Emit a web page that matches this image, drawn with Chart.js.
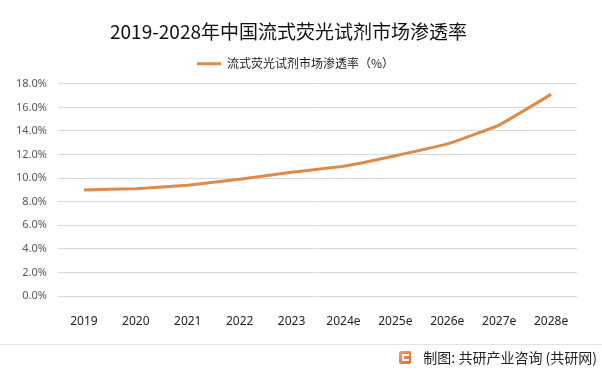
<!DOCTYPE html>
<html>
<head>
<meta charset="utf-8">
<script src="https://cdn.jsdelivr.net/npm/chart.js@4/dist/chart.umd.min.js"></script>
<style>
html,body{margin:0;padding:0;background:#fff;}
#wrap{position:relative;width:602px;height:374px;overflow:hidden;}
#c{position:absolute;left:0;top:0;}
#sep{position:absolute;left:0;top:344px;width:602px;height:1px;background:#e3e3e3;}
#footer{position:absolute;right:5px;top:347px;height:20px;line-height:20px;font-family:"Noto Sans CJK SC",sans-serif;font-size:14px;color:#222;display:flex;align-items:center;}
#icon{width:12px;height:13px;background:linear-gradient(135deg,#f6a25a,#e8612c);border-radius:2px;margin-right:12px;position:relative;}
#icon:after{content:"";position:absolute;left:3px;top:3px;width:7px;height:7px;border:2px solid #fff;border-right:none;box-sizing:border-box;}
</style>
</head>
<body>
<div id="wrap">
<canvas id="c" width="602" height="374"></canvas>
<div id="sep"></div>
<div id="footer"><span id="icon"></span>制图: 共研产业咨询 (共研网)</div>
</div>
<script>
const titleText = "2019-2028年中国流式荧光试剂市场渗透率";
const seriesName = "流式荧光试剂市场渗透率（%）";
const categories = ["2019","2020","2021","2022","2023","2024e","2025e","2026e","2027e","2028e"];
const penetration = [9.0, 9.1, 9.4, 9.9, 10.5, 11.0, 11.9, 12.9, 14.5, 17.1];
const yTicks = [0,2,4,6,8,10,12,14,16,18];

const lineColor = "#dc8b4a";

const legendShift = {
  id: "legendShift",
  afterLayout(chart) {
    const l = chart.legend;
    if (l) {
      l.top -= 4; l.bottom -= 4;
      l.left += 7; l.right += 7;
    }
  }
};

new Chart(document.getElementById("c"), {
  type: "line",
  data: {
    labels: categories,
    datasets: [{
      label: seriesName,
      data: penetration,
      borderColor: lineColor,
      backgroundColor: lineColor,
      borderWidth: 3,
      pointRadius: 0,
      tension: 0.1,
      fill: false
    }]
  },
  plugins: [legendShift],
  options: {
    responsive: false,
    animation: false,
    devicePixelRatio: 1,
    layout: { padding: { left: 0, right: 25, top: 0, bottom: 38 } },
    plugins: {
      title: {
        display: true,
        text: titleText,
        color: "#111",
        font: { family: "'Noto Sans CJK SC', sans-serif", size: 19, weight: "normal" },
        padding: { top: 20, bottom: 3 }
      },
      legend: {
        display: true,
        labels: {
          color: "#222",
          font: { family: "'Noto Sans CJK SC', sans-serif", size: 12 },
          boxWidth: 24,
          boxHeight: 3,
          padding: 16,
          generateLabels(chart) {
            const items = Chart.defaults.plugins.legend.labels.generateLabels(chart);
            items.forEach(i => { i.lineWidth = 0; i.fillStyle = lineColor; i.strokeStyle = lineColor; });
            return items;
          }
        }
      },
      tooltip: { enabled: false }
    },
    scales: {
      x: {
        offset: true,
        grid: { display: false },
        border: { display: false },
        ticks: {
          color: "#222",
          font: { family: "'Noto Sans', sans-serif", size: 12 },
          padding: 10,
          maxRotation: 0,
          autoSkip: false
        },
        afterFit(s) { s.height = 40; }
      },
      y: {
        min: 0,
        max: 18,
        afterBuildTicks(s) { s.ticks = yTicks.map(v => ({ value: v })); },
        grid: { color: "#d9d9d9", lineWidth: 1, drawTicks: false },
        border: { display: false },
        ticks: {
          color: "#595959",
          font: { family: "'Noto Sans', sans-serif", size: 11 },
          padding: 11,
          callback: v => v.toFixed(1) + "%"
        },
        afterFit(s) { s.width = 58; }
      }
    }
  }
});
</script>
</body>
</html>
